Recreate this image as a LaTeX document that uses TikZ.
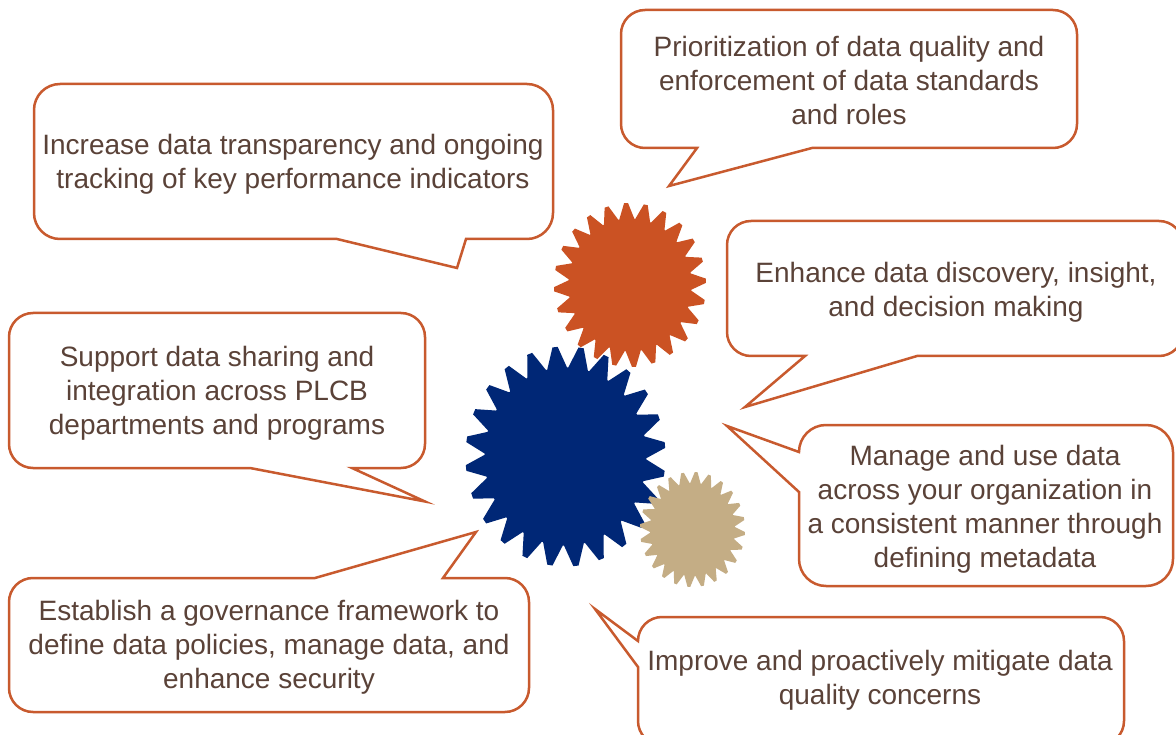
\documentclass[tikz,border=0pt]{standalone}
\usepackage{fontspec}
\setmainfont{Liberation Sans}
\definecolor{edge}{HTML}{C85A2E}
\definecolor{ink}{HTML}{5A4238}
\definecolor{gearorange}{HTML}{CB5223}
\definecolor{gearnavy}{HTML}{002776}
\definecolor{geartan}{HTML}{C4AD85}
\newcommand{\gearshape}[7]{%
  \pgfmathsetmacro{\gp}{360/#5}%
  \fill[#7] ({#1+#3*0.81*cos(#6-0.47*\gp)},{#2+#4*0.81*sin(#6-0.47*\gp)})
  \foreach \i in {1,...,#5}{
    -- ({#1+#3*0.81*cos(#6+(\i-1)*\gp-0.47*\gp)},{#2+#4*0.81*sin(#6+(\i-1)*\gp-0.47*\gp)})
    -- ({#1+#3*cos(#6+(\i-1)*\gp-0.10*\gp)},{#2+#4*sin(#6+(\i-1)*\gp-0.10*\gp)})
    -- ({#1+#3*cos(#6+(\i-1)*\gp+0.10*\gp)},{#2+#4*sin(#6+(\i-1)*\gp+0.10*\gp)})
    -- ({#1+#3*0.81*cos(#6+(\i-1)*\gp+0.47*\gp)},{#2+#4*0.81*sin(#6+(\i-1)*\gp+0.47*\gp)})
  } -- cycle;}
% left, top, right, bottom, radius, then the tail points on the top, left and bottom edges
\newcommand{\callout}[8]{%
  \draw[bubble] (#1+#5,#4) #8 -- (#3-#5,#4)
    arc[start angle=-90,end angle=0,radius=#5pt] -- (#3,#2+#5)
    arc[start angle=0,end angle=90,radius=#5pt] #6 -- (#1+#5,#2)
    arc[start angle=90,end angle=180,radius=#5pt] #7 -- (#1,#4-#5)
    arc[start angle=180,end angle=270,radius=#5pt] -- cycle;}
\tikzset{
  bubble/.style={draw=edge,line width=2.5pt,fill=white,line join=miter,miter limit=10},
  label/.style={text=ink,font=\fontsize{28}{34}\selectfont,align=center,inner sep=0pt,anchor=center},
}
\begin{document}
\begin{tikzpicture}[x=1pt,y=-1pt]
\useasboundingbox (0,0) rectangle (1176,735);
\clip (0,0) rectangle (1176,735);
\fill[white] (0,0) rectangle (1176,735);
\callout{34}{84}{553}{239}{26}{}{}{-- (337,239) -- (457,268) -- (466,239)}
\callout{621}{10}{1077}{148}{24}{}{}{-- (697,148) -- (669,186) -- (812,148)}
\callout{727}{221}{1183}{356}{24}{}{}{-- (805,356) -- (745,407) -- (917,356)}
\callout{799}{425}{1173}{586}{27}{}{-- (727,426) -- (799,492)}{}
\callout{9}{313}{425}{468}{24}{}{}{-- (250,468) -- (425,501.5) -- (352,468)}
\callout{9}{578}{529}{712}{24}{-- (443,578) -- (476,532) -- (315,578)}{}{}
\callout{638}{617}{1124}{745}{24}{}{-- (595,609) -- (638,667)}{}
% gears
\gearshape{630}{285}{76}{82}{24}{-3}{gearorange}
\gearshape{565.5}{456.5}{100}{110}{24}{-6}{gearnavy}
\gearshape{692.5}{529.5}{52.5}{57.5}{24}{-86}{geartan}
% labels
\node[label] (t1) at (293,164) {Increase data transparency and ongoing\\tracking of key performance indicators};
\node[label] (t2) at (849,80) {Prioritization of data quality and\\enforcement of data standards\\and roles};
\node[label] (t3) at (956,292) {Enhance data discovery, insight,\\and decision making};
\node[label] (t4) at (985,509) {Manage and use data\\across your organization in\\a consistent manner through\\defining metadata};
\node[label] (t5) at (217,393) {Support data sharing and\\integration across PLCB\\departments and programs};
\node[label] (t6) at (269,647) {Establish a governance framework to\\define data policies, manage data, and\\enhance security};
\node[label] (t7) at (880,680) {Improve and proactively mitigate data\\quality concerns};
\end{tikzpicture}
\end{document}
